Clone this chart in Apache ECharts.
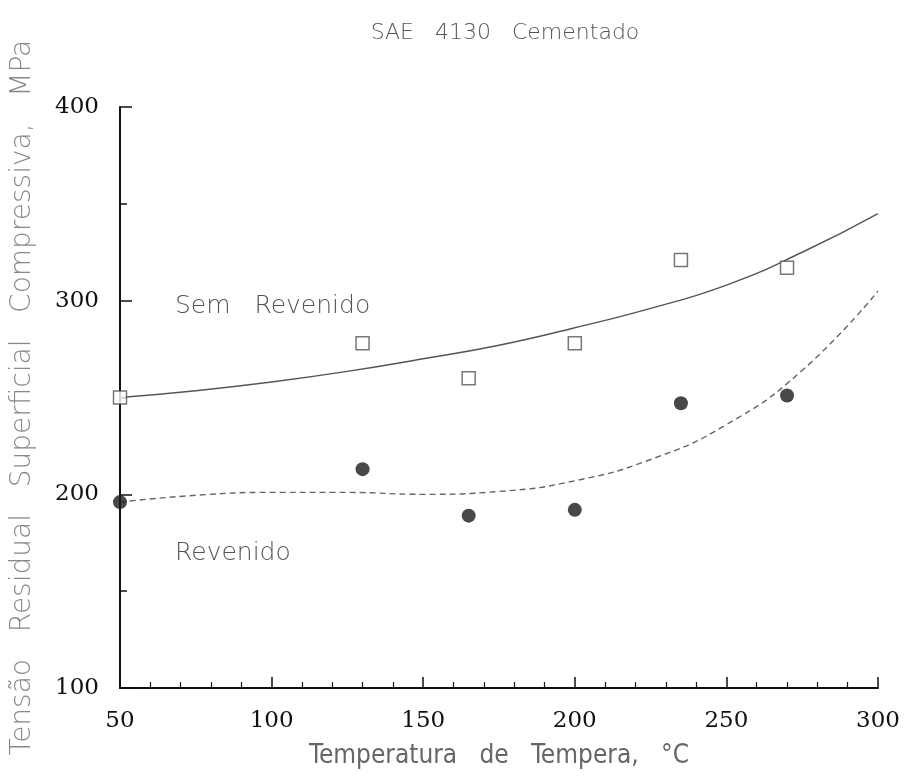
<!DOCTYPE html>
<html><head><meta charset="utf-8">
<script src="https://cdn.jsdelivr.net/npm/echarts@6/dist/echarts.min.js"></script>
<style>html,body{margin:0;padding:0;background:#fff}#c{width:905px;height:780px}</style>
</head><body><div id="c"></div>
<script>
const temps = [50, 130, 165, 200, 235, 270];
const semRevenido = [250, 278, 260, 278, 321, 317];
const revenido = [196, 213, 189, 192, 247, 251];
const fitTemps = [50, 75, 100, 125, 150, 175, 200, 225, 250, 275, 300];
const fitSemRevenido = [250, 253.5, 258, 263.5, 270, 277, 286, 296, 308, 325, 345];
const fitRevenido = [196, 199.5, 201, 201, 200, 201.5, 207, 218, 236, 264, 305];
const xTicks = [50, 100, 150, 200, 250, 300];
const yTicks = [100, 200, 300, 400];

const pair = (xs, ys) => xs.map((x, i) => [x, ys[i]]);
const labFont = '"DejaVu Sans","Noto Sans",sans-serif';
const condFont = '"DejaVu Sans Condensed","DejaVu Sans",sans-serif';
const numFont = '"DejaVu Serif","Liberation Serif",serif';

const chart = echarts.init(document.getElementById('c'), null, {renderer: 'canvas'});
chart.setOption({
  animation: false,
  backgroundColor: '#fff',
  grid: {left: 120, right: 27, top: 107, bottom: 92, containLabel: false, outerBoundsMode: 'none'},
  xAxis: {
    type: 'value', min: xTicks[0], max: xTicks[xTicks.length - 1], interval: 50,
    name: 'Temperatura   de   Tempera,   °C', nameLocation: 'middle', nameGap: 55,
    nameTextStyle: {fontFamily: condFont, fontSize: 26, fontWeight: 300, color: '#666'},
    axisLine: {lineStyle: {color: '#111', width: 2}},
    axisTick: {inside: true, length: 11, lineStyle: {color: '#111', width: 1.5}},
    minorTick: {show: true, splitNumber: 5, length: 6, lineStyle: {color: '#111', width: 1.2}},
    axisLabel: {fontFamily: numFont, fontSize: 23, color: '#111', margin: 22},
    splitLine: {show: false}
  },
  yAxis: {
    type: 'value', min: yTicks[0], max: yTicks[yTicks.length - 1], interval: 100,
    name: 'Tensão   Residual   Superficial   Compressiva,   MPa', nameLocation: 'middle', nameGap: 83, nameRotate: 90,
    nameTextStyle: {fontFamily: labFont, fontSize: 28, fontWeight: 300, color: '#888'},
    axisLine: {lineStyle: {color: '#111', width: 2}},
    axisTick: {inside: true, length: 12, lineStyle: {color: '#111', width: 1.5}},
    minorTick: {show: true, splitNumber: 2, length: 7, lineStyle: {color: '#111', width: 1.5}},
    axisLabel: {fontFamily: numFont, fontSize: 23, color: '#111', margin: 21},
    splitLine: {show: false}
  },
  graphic: [
    {type: 'text', x: 505, y: 33, style: {text: 'SAE   4130   Cementado', font: '300 22px ' + labFont, fill: '#555', align: 'center', verticalAlign: 'middle'}},
    {type: 'text', left: 175, top: 294, style: {text: 'Sem   Revenido', font: '300 25px ' + labFont, fill: '#555'}},
    {type: 'text', left: 175, top: 541, style: {text: 'Revenido', font: '300 25px ' + labFont, fill: '#555'}}
  ],
  series: [
    {type: 'line', data: pair(fitTemps, fitSemRevenido), smooth: true, showSymbol: false,
     lineStyle: {color: '#555', width: 1.4}, z: 2},
    {type: 'line', data: pair(fitTemps, fitRevenido), smooth: true, showSymbol: false,
     lineStyle: {color: '#666', width: 1.4, type: [6, 4]}, z: 2},
    {type: 'scatter', data: pair(temps, semRevenido), symbol: 'rect', symbolSize: 13,
     itemStyle: {color: '#fff', borderColor: '#555', borderWidth: 1.5}, z: 3},
    {type: 'scatter', data: pair(temps, revenido), symbol: 'circle', symbolSize: 14,
     itemStyle: {color: '#1a1a1a'}, z: 3}
  ]
});
</script></body></html>
